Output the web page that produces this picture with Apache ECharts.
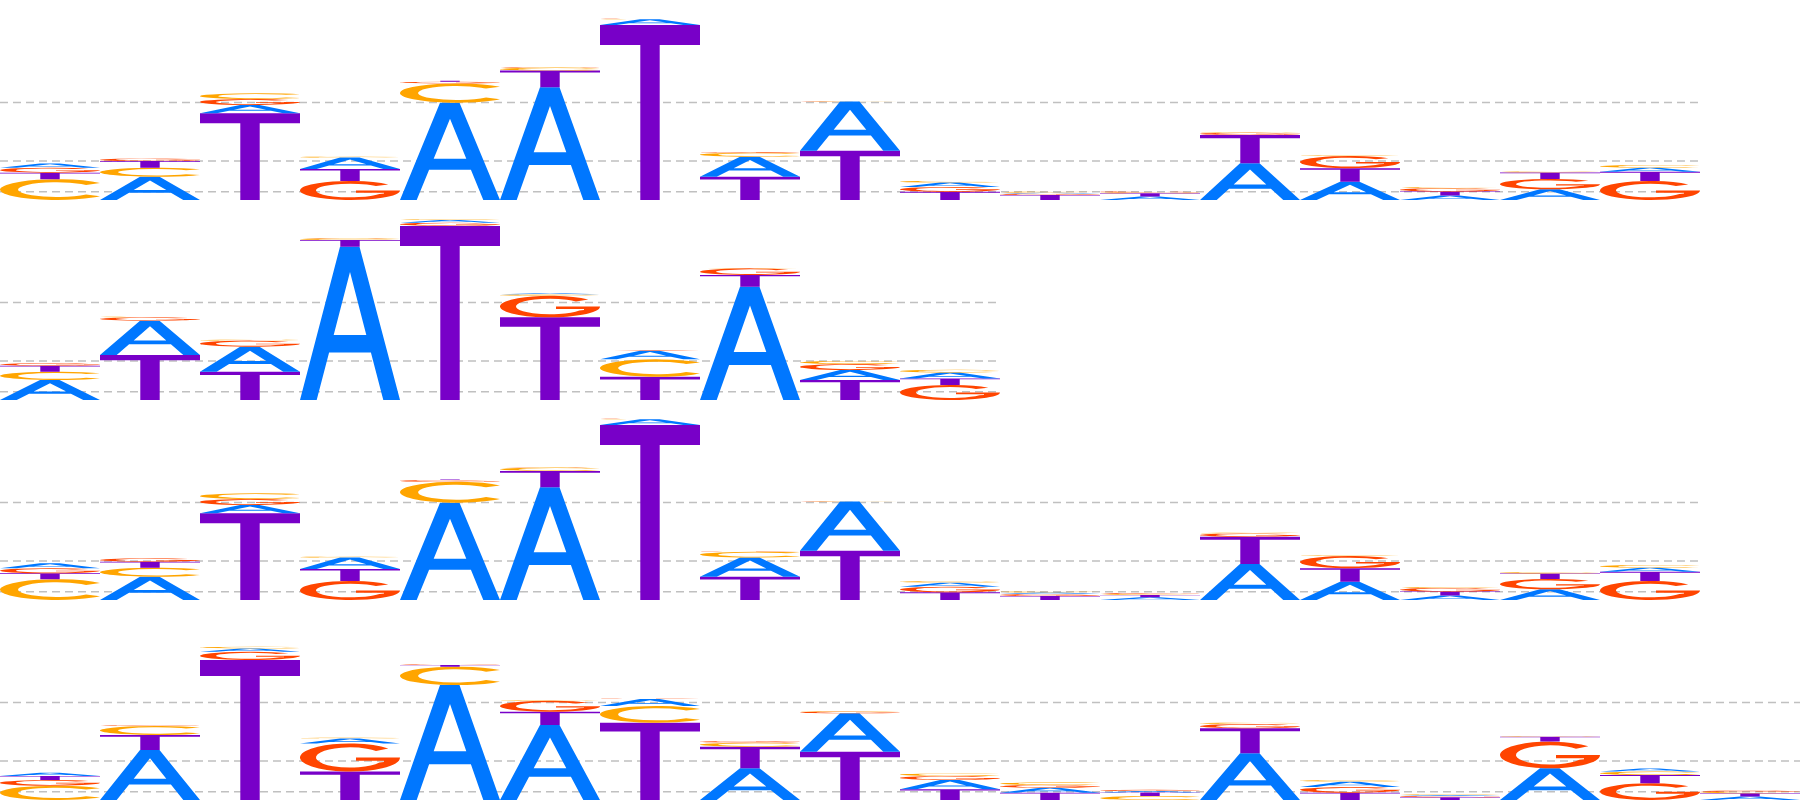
<!DOCTYPE html>
<html><head><meta charset="utf-8">
<script src="https://cdn.jsdelivr.net/npm/echarts@6/dist/echarts.min.js"></script>
<style>html,body{margin:0;padding:0;background:#fff}#c{width:1800px;height:800px}</style>
</head><body><div id="c"></div>
<script>
// Information content (bits) per letter per position, one set per logo row
const row1_A = [0.044,0.239,0.085,0.118,0.998,1.156,0.058,0.205,0.503,0.046,0.010,0.036,0.376,0.188,0.045,0.110,0.041];
const row1_C = [0.212,0.092,0.058,0.010,0.198,0.031,0.003,0.041,0.003,0.017,0.010,0.010,0.007,0.007,0.010,0.010,0.027];
const row1_G = [0.051,0.027,0.062,0.195,0.017,0.007,0.003,0.007,0.003,0.048,0.014,0.010,0.024,0.127,0.034,0.105,0.195];
const row1_T = [0.068,0.068,0.889,0.122,0.010,0.171,1.795,0.239,0.506,0.085,0.051,0.032,0.291,0.137,0.042,0.068,0.096];

const row2_A = [0.205,0.352,0.256,1.573,0.027,0.010,0.089,1.162,0.103,0.063];
const row2_C = [0.085,0.007,0.010,0.017,0.007,0.014,0.178,0.003,0.031,0.027];
const row2_G = [0.024,0.034,0.062,0.003,0.034,0.222,0.003,0.068,0.062,0.154];
const row2_T = [0.062,0.462,0.291,0.068,1.785,0.848,0.239,0.120,0.205,0.066];

const row3_A = [0.050,0.239,0.085,0.118,0.998,1.156,0.058,0.198,0.503,0.041,0.017,0.027,0.369,0.188,0.045,0.110,0.041];
const row3_C = [0.212,0.092,0.058,0.010,0.215,0.034,0.003,0.058,0.003,0.017,0.010,0.010,0.007,0.007,0.010,0.014,0.027];
const row3_G = [0.052,0.034,0.062,0.195,0.017,0.003,0.003,0.003,0.003,0.058,0.020,0.010,0.034,0.127,0.038,0.105,0.195];
const row3_T = [0.062,0.062,0.889,0.122,0.007,0.168,1.795,0.239,0.506,0.079,0.041,0.025,0.280,0.137,0.041,0.058,0.096];

const row4_A = [0.034,0.513,0.034,0.051,1.179,0.769,0.072,0.325,0.393,0.096,0.051,0.015,0.479,0.055,0.010,0.325,0.032,0.036];
const row4_C = [0.147,0.092,0.017,0.007,0.188,0.007,0.171,0.041,0.007,0.027,0.026,0.040,0.014,0.017,0.007,0.007,0.036,0.014];
const row4_G = [0.058,0.007,0.085,0.288,0.007,0.113,0.003,0.017,0.017,0.041,0.029,0.012,0.044,0.058,0.014,0.274,0.171,0.014];
const row4_T = [0.041,0.154,1.436,0.292,0.017,0.137,0.793,0.222,0.496,0.109,0.075,0.038,0.256,0.075,0.027,0.051,0.085,0.033];

const gridLineValues = [1.0, 0.4, 0.085];

const LETTERS = ['A','C','G','T'];
const COLORS = {A:'#0077FF', C:'#FFA500', G:'#FF4500', T:'#7800C8'};
const GLYPHS = {
  A: 'M0 100 L40 0 L59.5 0 L100 100 L83.3 100 L70.9 69 L29.1 69 L16.7 100 Z M50 16.5 L33.7 57.6 L66.3 57.6 Z',
  T: 'M0 0 L100 0 L100 11.5 L59.7 11.5 L59.7 100 L40.3 100 L40.3 11.5 L0 11.5 Z',
  C: 'M88.3 17.9 A50 50 0 1 0 88.3 82.1 L76 73.1 A34 36 0 1 1 76 26.9 Z',
  G: 'M88.3 17.9 A50 50 0 1 0 100 50 L56 50 L56 62 L84 62 L84 66 L79.4 68 A34 36 0 1 1 76 26.9 Z'
};

const rows = [
  [row1_A,row1_C,row1_G,row1_T],
  [row2_A,row2_C,row2_G,row2_T],
  [row3_A,row3_C,row3_G,row3_T],
  [row4_A,row4_C,row4_G,row4_T]
];
const YMAX = 200/97.5;

const grids = [], xAxes = [], yAxes = [], series = [];
rows.forEach((r, i) => {
  const n = r[0].length;
  grids.push({left: 0, top: 200*i, width: n*100, height: 200});
  xAxes.push({type:'value', gridIndex:i, min:-0.5, max:n-0.5, show:false});
  yAxes.push({type:'value', gridIndex:i, min:0, max:YMAX, show:false});
  series.push({
    type:'custom', xAxisIndex:i, yAxisIndex:i, z:1, silent:true,
    data: gridLineValues.map(v => [v]),
    renderItem: function(params, api){
      const v = api.value(0);
      const p0 = api.coord([-0.5, v]);
      const p1 = api.coord([n-0.5, v]);
      return {type:'line', shape:{x1:p0[0], y1:p0[1], x2:p1[0], y2:p1[1]},
        style:{stroke:'#c0c0c0', lineWidth:1.6, lineDash:[8,5]}};
    }
  });
  const data = r[0].map((_, k) => [k, r[0][k], r[1][k], r[2][k], r[3][k]]);
  series.push({
    type:'custom', xAxisIndex:i, yAxisIndex:i, z:2, silent:true,
    dimensions:['pos','A','C','G','T'],
    encode:{x:0, y:[1,2,3,4]},
    data: data,
    renderItem: function(params, api){
      const x = api.value(0);
      const vals = LETTERS.map((L, j) => ({L:L, v: api.value(j+1)}));
      vals.sort((a,b) => b.v - a.v);
      let base = 0;
      const children = [];
      vals.forEach(it => {
        if (!(it.v > 0)) return;
        const p0 = api.coord([x-0.5, base]);
        const p1 = api.coord([x+0.5, base+it.v]);
        const h = p0[1] - p1[1];
        if (h > 0.05) {
          children.push({type:'path',
            shape:{pathData: GLYPHS[it.L], x:p0[0], y:p1[1], width:p1[0]-p0[0], height:h, layout:'cover'},
            style:{fill: COLORS[it.L]}});
        }
        base += it.v;
      });
      return {type:'group', children: children};
    }
  });
});

const chart = echarts.init(document.getElementById('c'));
chart.setOption({animation:false, backgroundColor:'#fff', grid:grids, xAxis:xAxes, yAxis:yAxes, series:series});
</script>
</body></html>
